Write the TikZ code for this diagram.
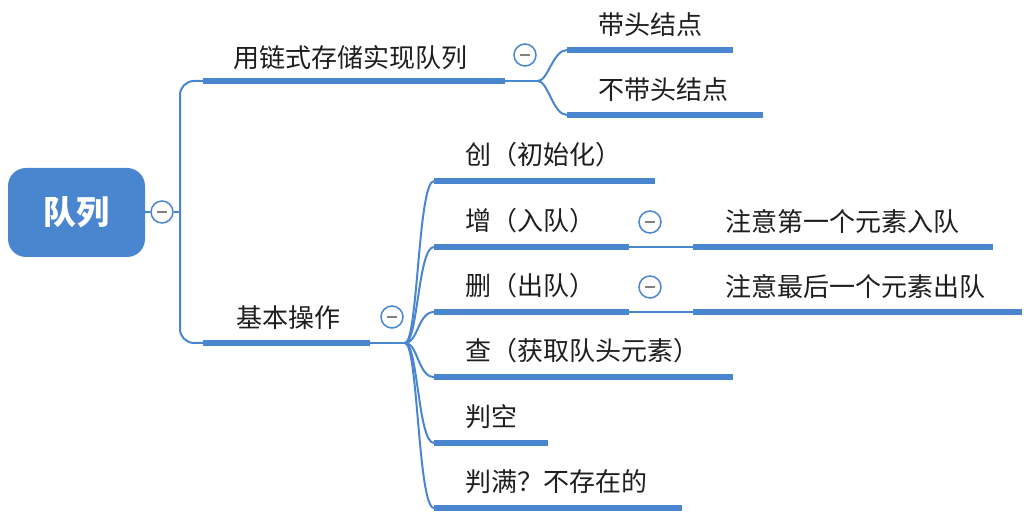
\documentclass[tikz,border=0pt]{standalone}
\usepackage{fontspec}
\setmainfont{Noto Sans CJK SC}
\usepackage{xcolor}
\usepackage{tikz}
\usetikzlibrary{positioning}
\definecolor{qblue}{RGB}{74,134,207}
\definecolor{qtext}{RGB}{30,30,30}

\begin{document}
\begin{tikzpicture}[x=1pt, y=1pt,
  link/.style={draw=qblue, line width=2},
  bar/.style={fill=qblue, minimum height=6, inner sep=0, anchor=west},
  txt/.style={inner sep=0, text=qtext, font=\fontsize{26}{30}\selectfont},
  fold/.style={circle, draw=qblue, fill=white, line width=1.5, minimum size=22, inner sep=0,
    path picture={\draw[gray, line width=1.2] ([xshift=-5]path picture bounding box.center) -- ([xshift=5]path picture bounding box.center);}}]
\useasboundingbox (0,0) rectangle (1034,522);
\node[fill=qblue, rounded corners=18, minimum width=137, minimum height=89, text=white, font=\fontsize{33}{38}\selectfont\bfseries] (root) at (76.5,309.5) {队列};
\node[fold] (rootc) at (162,310) {};
\coordinate (trunk) at (180,310);
\draw[link] (root) -- (rootc);
\draw[link] (rootc) -- (trunk);

\node[bar, minimum width=302] (lianshi) at (203,441) {};
\node[txt, right=30 of lianshi.west, yshift=23] (lianshi-t) {用链式存储实现队列};
\node[bar, minimum width=167] (jiben) at (203,179) {};
\node[txt, right=33 of jiben.west, yshift=25] (jiben-t) {基本操作};
\draw[link, rounded corners=14] (trunk) |- (lianshi.west);
\draw[link, rounded corners=14] (trunk) |- (jiben.west);

\node[fold] (c1) at (525,467) {};
\coordinate (split) at (538,441);
\draw[link] (lianshi.east) -- (split);
\node[bar, minimum width=166] (daitou) at (567,472) {};
\node[txt, right=31 of daitou.west, yshift=25] (daitou-t) {带头结点};
\node[bar, minimum width=196] (budaitou) at (567,407) {};
\node[txt, right=31 of budaitou.west, yshift=25] (budaitou-t) {不带头结点};
\draw[link] (split) .. controls +(10,0) and +(-14,0) .. (daitou.west);
\draw[link] (split) .. controls +(10,0) and +(-14,0) .. (budaitou.west);

\node[fold] (c2) at (392,205) {};
\coordinate (hub) at (405,179);
\draw[link] (jiben.east) -- (hub);
\node[bar, minimum width=221] (chuang) at (434,341) {};
\node[txt, right=31 of chuang.west, yshift=26] (chuang-t) {创（初始化）};
\node[bar, minimum width=195] (zeng) at (434,275) {};
\node[txt, right=31 of zeng.west, yshift=26] (zeng-t) {增（入队）};
\node[bar, minimum width=195] (shan) at (434,210) {};
\node[txt, right=31 of shan.west, yshift=26] (shan-t) {删（出队）};
\node[bar, minimum width=299] (cha) at (434,145) {};
\node[txt, right=31 of cha.west, yshift=26] (cha-t) {查（获取队头元素）};
\node[bar, minimum width=114] (pankong) at (434,79) {};
\node[txt, right=31 of pankong.west, yshift=26] (pankong-t) {判空};
\node[bar, minimum width=248] (panman) at (434,14) {};
\node[txt, right=31 of panman.west, yshift=26] (panman-t) {判满？不存在的};
\draw[link] (hub) .. controls +(13,0) and +(-16,0) .. (chuang.west);
\draw[link] (hub) .. controls +(13,0) and +(-16,0) .. (zeng.west);
\draw[link] (hub) .. controls +(13,0) and +(-16,0) .. (shan.west);
\draw[link] (hub) .. controls +(13,0) and +(-16,0) .. (cha.west);
\draw[link] (hub) .. controls +(13,0) and +(-16,0) .. (pankong.west);
\draw[link] (hub) .. controls +(13,0) and +(-16,0) .. (panman.west);

\node[fold] (c3) at (650,300) {};
\node[bar, minimum width=300] (zeng2) at (693,275) {};
\node[txt, right=32 of zeng2.west, yshift=25] (zeng2-t) {注意第一个元素入队};
\draw[link] (zeng.east) -- (zeng2.west);
\node[fold] (c4) at (650,235) {};
\node[bar, minimum width=329] (shan2) at (693,210) {};
\node[txt, right=32 of shan2.west, yshift=25] (shan2-t) {注意最后一个元素出队};
\draw[link] (shan.east) -- (shan2.west);
\end{tikzpicture}
\end{document}
